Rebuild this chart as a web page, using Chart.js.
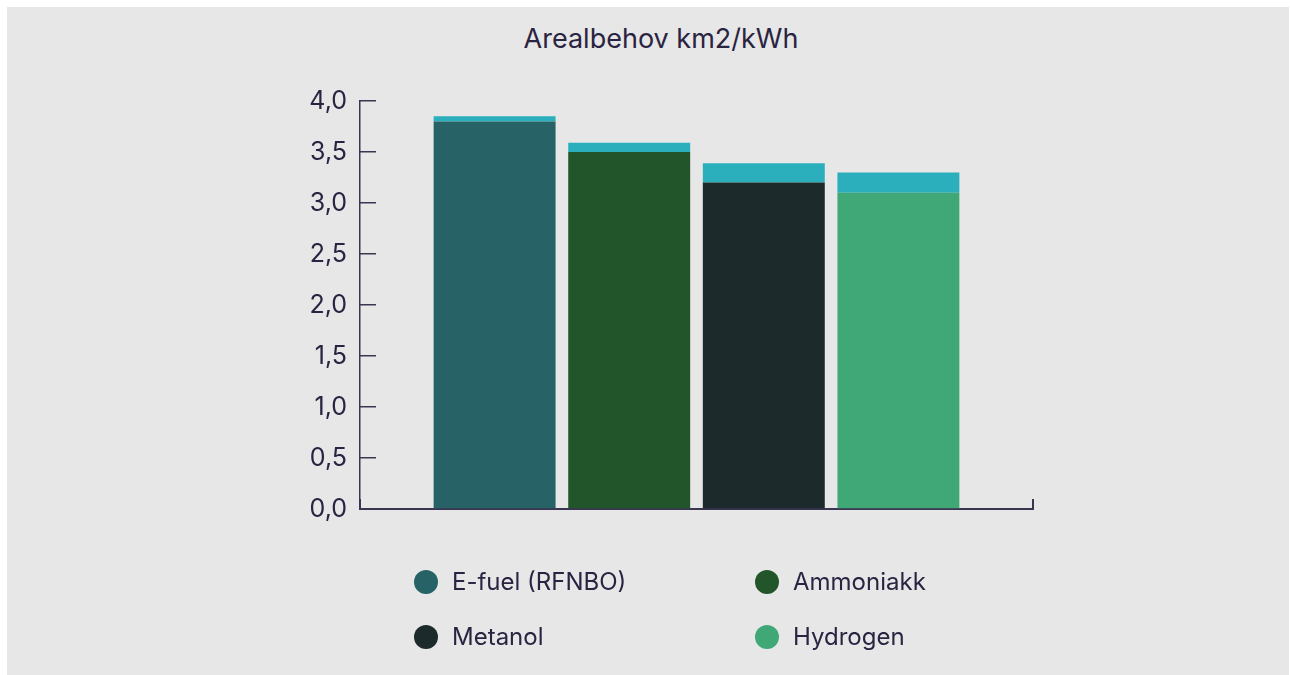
<!DOCTYPE html>
<html lang="no">
<head>
<meta charset="utf-8">
<title>Arealbehov km2/kWh</title>
<script src="https://cdn.jsdelivr.net/npm/chart.js@4.4.1/dist/chart.umd.min.js"></script>
<style>
  html, body { margin: 0; padding: 0; background: #ffffff; }
  body { width: 1290px; height: 675px; position: relative; overflow: hidden; font-family: Inter, "Noto Sans", sans-serif; color: #2a2342; }
  #panel { position: absolute; left: 7px; top: 7px; width: 1282px; height: 668px; background: #e7e7e7; }
  #chartBox { position: absolute; left: 0; top: 0; width: 1290px; height: 675px; }
  #title { position: absolute; left: 0; width: 1322px; top: 23px; text-align: center; font-size: 27px; line-height: 32px; }
  #legend { position: absolute; left: 414px; top: 566px; display: grid; grid-template-columns: 341px 300px; row-gap: 24px; }
  .item { display: flex; align-items: center; font-size: 24px; height: 31px; }
  .dot { width: 24px; height: 24px; border-radius: 50%; margin-right: 14px; flex: none; }
</style>
</head>
<body>
<div id="panel"></div>
<div id="title">Arealbehov km2/kWh</div>
<div id="chartBox"><canvas id="arealChart"></canvas></div>
<div id="legend"></div>
<script>
// data
const categories = ['E-fuel (RFNBO)', 'Ammoniakk', 'Metanol', 'Hydrogen'];
const baseValues = [3.8, 3.5, 3.2, 3.1];
const extraValues = [0.05, 0.09, 0.19, 0.2];
const barColors = ['#276266', '#23552b', '#1d2a2b', '#3fa876'];
const extraColor = '#2cafbc';
const legendOrder = ['E-fuel (RFNBO)', 'Ammoniakk', 'Metanol', 'Hydrogen'];

const axisColor = '#3b3552';
const textColor = '#2a2342';

function toPoints(values) {
    return values.map(function(v, i) { return { x: i + 1, y: v }; });
}

function formatTick(value) {
    return value.toFixed(1).replace('.', ',');
}

function buildLegend() {
    const box = document.getElementById('legend');
    legendOrder.forEach(function(name) {
        const i = categories.indexOf(name);
        const item = document.createElement('div');
        item.className = 'item';
        const dot = document.createElement('span');
        dot.className = 'dot';
        dot.style.background = barColors[i];
        const label = document.createElement('span');
        label.textContent = name;
        item.appendChild(dot);
        item.appendChild(label);
        box.appendChild(item);
    });
}

function createChart() {
    const ctx = document.getElementById('arealChart').getContext('2d');

    new Chart(ctx, {
        type: 'bar',
        data: {
            datasets: [
                {
                    label: 'Arealbehov',
                    data: toPoints(baseValues),
                    backgroundColor: barColors,
                    categoryPercentage: 1,
                    barPercentage: 0.906
                },
                {
                    label: 'Tillegg',
                    data: toPoints(extraValues),
                    backgroundColor: extraColor,
                    categoryPercentage: 1,
                    barPercentage: 0.906
                }
            ]
        },
        options: {
            responsive: true,
            maintainAspectRatio: false,
            animation: false,
            layout: {
                padding: { left: 300, right: 257, top: 101, bottom: 156 }
            },
            plugins: {
                legend: { display: false },
                title: { display: false },
                tooltip: { enabled: false }
            },
            scales: {
                x: {
                    type: 'linear',
                    stacked: true,
                    offset: false,
                    min: 0,
                    max: 5,
                    afterFit: function(scale) { scale.height = 10; },
                    ticks: { display: false, stepSize: 5 },
                    grid: {
                        offset: false,
                        drawOnChartArea: false,
                        drawTicks: true,
                        tickLength: -10,
                        color: axisColor,
                        lineWidth: 2
                    },
                    border: { display: true, color: axisColor, width: 2 }
                },
                y: {
                    stacked: true,
                    min: 0,
                    max: 4,
                    afterFit: function(scale) { scale.width = 60; },
                    ticks: {
                        stepSize: 0.5,
                        padding: 29,
                        color: textColor,
                        font: { family: 'Inter', size: 25 },
                        callback: formatTick
                    },
                    grid: {
                        drawOnChartArea: false,
                        drawTicks: true,
                        tickLength: -16,
                        color: axisColor,
                        lineWidth: 1.5
                    },
                    border: { display: true, color: axisColor, width: 1.5 }
                }
            }
        }
    });
}

buildLegend();
createChart();
</script>
</body>
</html>
